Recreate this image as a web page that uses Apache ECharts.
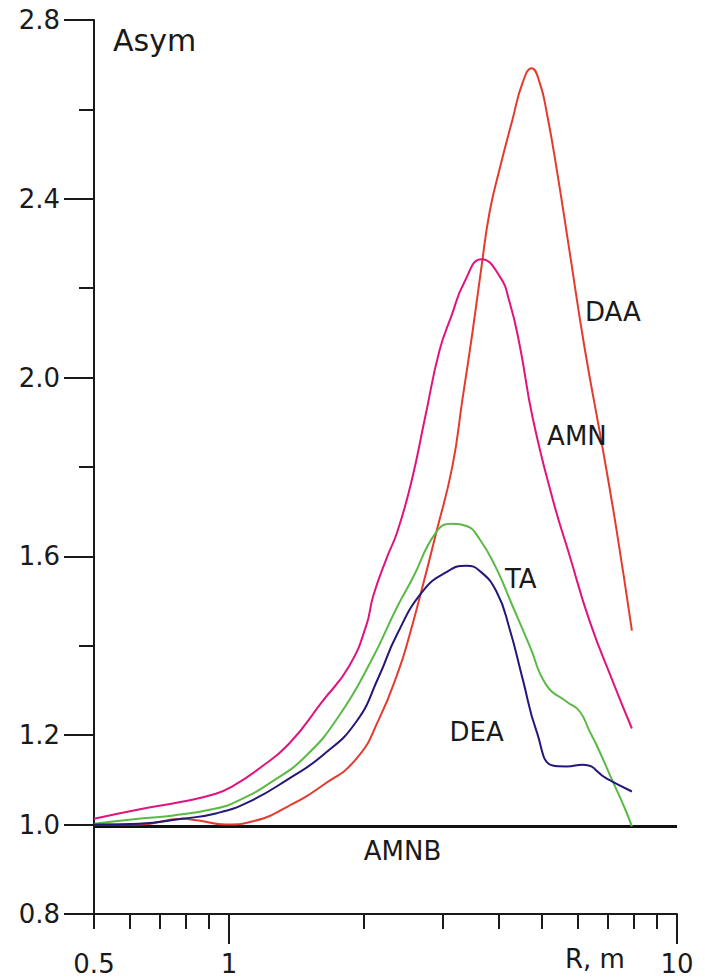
<!DOCTYPE html>
<html>
<head>
    <meta charset="utf-8"/>
    <title>Asym</title>
    <script src="https://cdn.jsdelivr.net/npm/echarts@6/dist/echarts.min.js"></script>
    <style>
        html, body { margin: 0; padding: 0; background: #fff; }
        #main { width: 705px; height: 978px; }
    </style>
</head>
<body>
<div id="main"></div>
<script>
    // 数据: [R, Asym]
    var daa = [[0.5, 1.0], [0.629, 1.0], [0.785, 1.013], [0.857, 1.009], [0.985, 1.0], [1.149, 1.009],
        [1.362, 1.042], [1.615, 1.087], [1.924, 1.147], [2.165, 1.237], [2.4, 1.349], [2.527, 1.422],
        [2.661, 1.505], [2.905, 1.655], [3.154, 1.802], [3.321, 1.952], [3.497, 2.102], [3.663, 2.249],
        [3.817, 2.37], [4.018, 2.466], [4.296, 2.578], [4.524, 2.66], [4.738, 2.692], [4.938, 2.66],
        [5.12, 2.593], [5.39, 2.466], [5.762, 2.28], [6.226, 2.064], [6.83, 1.84], [7.341, 1.655], [7.931, 1.434]];
    var amn = [[0.5, 1.013], [0.629, 1.034], [0.785, 1.051], [0.935, 1.069], [1.016, 1.085], [1.167, 1.125],
        [1.362, 1.181], [1.615, 1.275], [1.856, 1.355], [2.025, 1.445], [2.1, 1.512], [2.245, 1.594],
        [2.376, 1.655], [2.553, 1.766], [2.745, 1.914], [2.95, 2.06], [3.138, 2.138],
        [3.355, 2.214], [3.663, 2.265], [4.018, 2.227], [4.23, 2.169], [4.455, 2.073], [4.763, 1.91],
        [5.28, 1.728], [5.762, 1.601], [6.388, 1.454], [7.192, 1.32], [7.931, 1.215]];
    var ta = [[0.5, 1.002], [0.629, 1.013], [0.746, 1.02], [0.935, 1.036], [1.053, 1.054], [1.248, 1.096],
        [1.487, 1.154], [1.763, 1.244], [2.089, 1.371], [2.363, 1.483], [2.567, 1.55], [2.905, 1.655],
        [3.154, 1.673], [3.39, 1.668], [3.625, 1.639], [3.957, 1.572], [4.296, 1.489], [4.69, 1.4],
        [5.12, 1.311], [5.674, 1.275], [6.067, 1.253], [6.388, 1.208], [6.622, 1.177], [7.192, 1.096],
        [7.651, 1.036], [7.931, 0.996]];
    var dea = [[0.5, 1.0], [0.629, 1.002], [0.785, 1.013], [0.935, 1.025], [1.108, 1.051], [1.362, 1.103],
        [1.615, 1.154], [1.924, 1.23], [2.165, 1.333], [2.363, 1.422], [2.703, 1.521], [3.058, 1.565],
        [3.39, 1.579], [3.625, 1.568], [3.957, 1.521], [4.23, 1.438], [4.524, 1.326], [4.862, 1.208],
        [5.28, 1.132], [5.674, 1.13], [6.162, 1.134], [6.972, 1.103], [7.931, 1.074]];
    var amnb = [[0.5, 0.996], [10, 0.996]];

    // 曲线标注
    var curveLabels = [
        {name: 'DAA', value: [7.19, 2.146]},
        {name: 'AMN', value: [5.98, 1.869]},
        {name: 'TA', value: [4.48, 1.55]},
        {name: 'DEA', value: [3.57, 1.208]},
        {name: 'AMNB', value: [2.44, 0.94]}
    ];

    // 刻度
    var xMinorTicks = [0.5, 0.6, 0.7, 0.8, 0.9, 2, 3, 4, 5, 6, 7, 8, 9];
    var xMajorTicks = [1, 10];
    var xLabels = [0.5, 1, 10];
    var yMinorTicks = [1.4, 1.8, 2.2, 2.6];
    var yMajorTicks = [0.8, 1.0, 1.2, 1.6, 2.0, 2.4, 2.8];

    var axisColor = '#1a1a1a';
    var textColor = '#1a1a1a';
    var font = 'DejaVu Sans, Verdana, sans-serif';

    var myChart = echarts.init(document.getElementById('main'), null, {renderer: 'svg'});

    var lineSeries = function (name, data, color, width) {
        return {
            name: name,
            type: 'line',
            data: data,
            smooth: 0.5,
            symbol: 'none',
            lineStyle: {color: color, width: width},
            z: 3
        };
    };

    var option = {
        backgroundColor: '#fff',
        animation: false,
        title: {
            text: 'Asym',
            left: 108,
            top: 20,
            textStyle: {fontFamily: font, fontSize: 30, fontWeight: 'normal', color: textColor}
        },
        graphic: [{
            type: 'text',
            left: 565,
            top: 946,
            style: {text: 'R, m', font: '26px ' + font, fill: textColor}
        }],
        grid: {left: 94, right: 28, top: 20, bottom: 64},
        xAxis: [{
            type: 'log',
            logBase: 10,
            min: 0.5,
            max: 10,
            axisLine: {show: true, lineStyle: {color: axisColor, width: 2}},
            axisTick: {show: true, inside: false, length: 15, customValues: xMinorTicks,
                lineStyle: {color: axisColor, width: 2}},
            axisLabel: {show: true, customValues: xLabels, margin: 38, color: textColor,
                fontFamily: font, fontSize: 26, lineHeight: 24},
            splitLine: {show: false}
        }, {
            type: 'log',
            logBase: 10,
            min: 0.5,
            max: 10,
            position: 'bottom',
            axisLine: {show: false},
            axisTick: {show: true, length: 30, customValues: xMajorTicks,
                lineStyle: {color: axisColor, width: 2}},
            axisLabel: {show: false},
            splitLine: {show: false}
        }],
        yAxis: [{
            type: 'value',
            min: 0.8,
            max: 2.8,
            axisLine: {show: true, lineStyle: {color: axisColor, width: 2}},
            axisTick: {show: true, length: 15, customValues: yMinorTicks,
                lineStyle: {color: axisColor, width: 2}},
            axisLabel: {show: false},
            splitLine: {show: false}
        }, {
            type: 'value',
            min: 0.8,
            max: 2.8,
            position: 'left',
            axisLine: {show: false},
            axisTick: {show: true, length: 30, customValues: yMajorTicks,
                lineStyle: {color: axisColor, width: 2}},
            axisLabel: {show: true, customValues: yMajorTicks, margin: 34, color: textColor,
                fontFamily: font, fontSize: 26,
                formatter: function (v) { return v.toFixed(1); }},
            splitLine: {show: false}
        }],
        series: [
            {
                name: 'AMNB',
                type: 'line',
                data: amnb,
                symbol: 'none',
                lineStyle: {color: '#111', width: 3},
                z: 2
            },
            lineSeries('DAA', daa, '#e33b2e', 2),
            lineSeries('AMN', amn, '#e0137f', 2),
            lineSeries('TA', ta, '#5bb946', 2),
            lineSeries('DEA', dea, '#23187a', 2),
            {
                name: 'labels',
                type: 'scatter',
                data: curveLabels,
                symbolSize: 1,
                itemStyle: {color: 'rgba(0,0,0,0)'},
                label: {
                    show: true,
                    position: 'inside',
                    formatter: '{b}',
                    color: textColor,
                    opacity: 1,
                    fontFamily: font,
                    fontSize: 26
                },
                emphasis: {disabled: true},
                z: 4
            }
        ]
    };
    myChart.setOption(option);
</script>
</body>
</html>
